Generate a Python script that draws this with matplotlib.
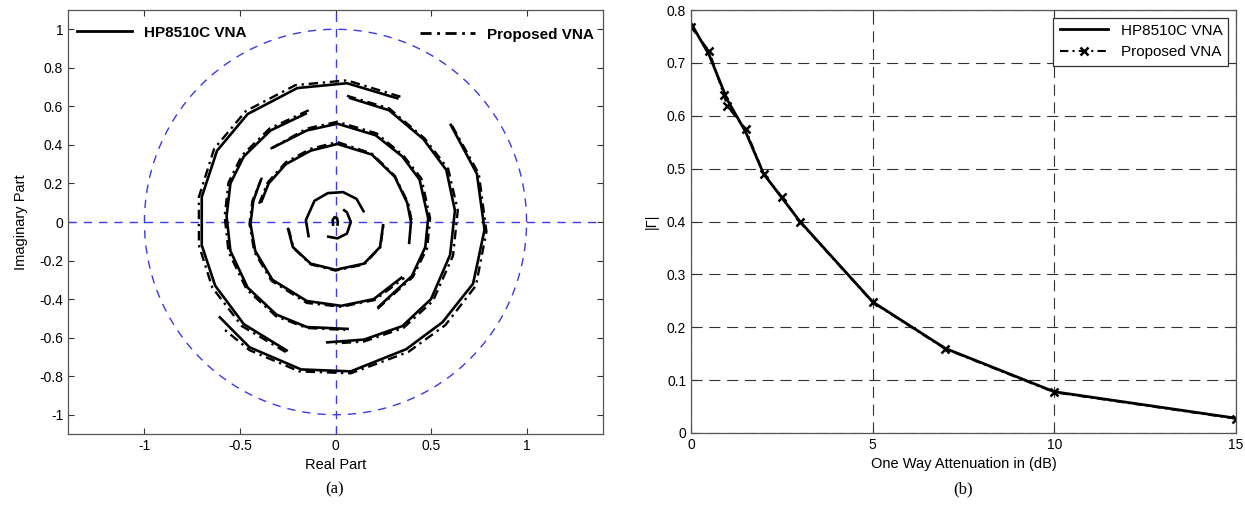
import matplotlib.pyplot as plt
import numpy as np

# === Data: (a) reflection coefficient arcs ===
# each arc: HP8510C (solid) and proposed VNA (dash-dot)
arcs_hp = {
    "0dB":   ([0.60, 0.74, 0.78, 0.72, 0.56, 0.37, 0.08, -0.18, -0.45, -0.61],
              [0.51, 0.25, -0.04, -0.32, -0.52, -0.66, -0.775, -0.765, -0.65, -0.49]),
    "0.5dB": ([0.33, 0.06, -0.20, -0.46, -0.62, -0.70, -0.70, -0.63, -0.48, -0.25],
              [0.64, 0.72, 0.695, 0.56, 0.37, 0.13, -0.12, -0.33, -0.53, -0.67]),
    "1dB":   ([0.07, 0.28, 0.46, 0.58, 0.625, 0.60, 0.50, 0.35, 0.15, -0.05],
              [0.645, 0.58, 0.43, 0.27, 0.06, -0.17, -0.40, -0.54, -0.61, -0.625]),
    "1.5dB": ([-0.15, -0.34, -0.48, -0.55, -0.57, -0.55, -0.46, -0.31, -0.15, 0.07],
              [0.565, 0.475, 0.34, 0.20, 0.03, -0.15, -0.34, -0.48, -0.545, -0.555]),
    "2dB":   ([-0.33, -0.15, 0.01, 0.21, 0.35, 0.44, 0.485, 0.47, 0.40, 0.22],
              [0.385, 0.475, 0.51, 0.45, 0.34, 0.22, 0.02, -0.13, -0.28, -0.445]),
    "2.5dB": ([-0.39, -0.43, -0.445, -0.42, -0.33, -0.15, 0.03, 0.20, 0.35],
              [0.22, 0.11, -0.01, -0.15, -0.30, -0.41, -0.435, -0.40, -0.285]),
    "3dB":   ([-0.39, -0.35, -0.26, -0.13, 0.01, 0.19, 0.31, 0.375, 0.395, 0.385],
              [0.10, 0.20, 0.30, 0.37, 0.405, 0.35, 0.235, 0.10, 0.0, -0.115]),
    "5dB":   ([-0.25, -0.223, -0.13, 0.0, 0.149, 0.233, 0.25],
              [-0.03, -0.13, -0.216, -0.248, -0.216, -0.13, -0.01]),
    "7dB":   ([0.15, 0.11, 0.04, -0.04, -0.11, -0.155, -0.14],
              [0.05, 0.12, 0.155, 0.15, 0.11, 0.01, -0.08]),
    "10dB":  ([-0.045, 0.01, 0.06, 0.08, 0.06, 0.04],
              [-0.075, -0.085, -0.06, 0.0, 0.05, 0.065]),
    "15dB":  ([-0.012, -0.015, -0.005, 0.008, 0.012, 0.01],
              [-0.02, 0.01, 0.025, 0.02, 0.0, -0.02]),
}
arcs_prop = {
    "0dB":   ([0.61, 0.75, 0.79, 0.735, 0.575, 0.38, 0.08, -0.19, -0.45, -0.585],
              [0.50, 0.25, -0.05, -0.33, -0.535, -0.675, -0.785, -0.775, -0.665, -0.555]),
    "0.5dB": ([0.34, 0.06, -0.21, -0.47, -0.635, -0.715, -0.715, -0.645, -0.49, -0.26],
              [0.65, 0.735, 0.71, 0.575, 0.38, 0.13, -0.12, -0.34, -0.54, -0.675]),
    "1dB":   ([0.06, 0.28, 0.465, 0.59, 0.64, 0.615, 0.51, 0.355, 0.15, 0.0],
              [0.655, 0.59, 0.435, 0.275, 0.06, -0.175, -0.41, -0.55, -0.62, -0.63]),
    "1.5dB": ([-0.14, -0.345, -0.49, -0.56, -0.58, -0.56, -0.465, -0.31, -0.15, 0.05],
              [0.58, 0.485, 0.345, 0.205, 0.03, -0.155, -0.35, -0.49, -0.55, -0.56]),
    "2dB":   ([-0.34, -0.15, 0.01, 0.215, 0.355, 0.45, 0.495, 0.48, 0.405, 0.215],
              [0.38, 0.485, 0.52, 0.46, 0.345, 0.225, 0.02, -0.135, -0.285, -0.455]),
    "2.5dB": ([-0.385, -0.435, -0.45, -0.425, -0.335, -0.15, 0.03, 0.205, 0.36],
              [0.23, 0.11, -0.01, -0.155, -0.305, -0.42, -0.44, -0.405, -0.29]),
    "3dB":   ([-0.40, -0.355, -0.26, -0.13, 0.01, 0.19, 0.31, 0.38, 0.40],
              [0.095, 0.205, 0.31, 0.38, 0.415, 0.355, 0.24, 0.10, 0.0]),
    "5dB":   ([-0.245, -0.22, -0.13, 0.0, 0.15, 0.235, 0.25],
              [-0.035, -0.135, -0.22, -0.252, -0.22, -0.13, -0.02]),
}

# === Data: (b) |Gamma| vs attenuation ===
att_hp = [0, 0.5, 1, 1.5, 2, 2.5, 3, 5, 7, 10, 15]
gam_hp = [0.775, 0.715, 0.63, 0.57, 0.49, 0.445, 0.40, 0.248, 0.16, 0.078, 0.028]
att_prop = [0, 0.5, 0.9, 1, 1.5, 2, 2.5, 3, 5, 7, 10, 15]
gam_prop = [0.768, 0.722, 0.64, 0.618, 0.575, 0.49, 0.446, 0.399, 0.247, 0.159, 0.077, 0.027]

plt.rcParams['font.family'] = ['Liberation Sans', 'DejaVu Sans']
DASHDOT = (0, (4, 2, 1, 2))
BLUE = '#3a3ae6'

fig = plt.figure(figsize=(12.45, 5.05), dpi=100)
ax1 = fig.add_axes([68 / 1245, 71 / 505, 535 / 1245, 424 / 505])
ax2 = fig.add_axes([691 / 1245, 72 / 505, 545 / 1245, 423 / 505])

# === (a) ===
t = np.linspace(0, 2 * np.pi, 200)
ax1.plot(np.cos(t), np.sin(t), color=BLUE, lw=1.0, linestyle=(0, (6, 5)))
ax1.axhline(0, color=BLUE, lw=1.0, linestyle=(0, (6, 5)))
ax1.axvline(0, color=BLUE, lw=1.0, linestyle=(0, (6, 5)))

for key, (xs, ys) in arcs_prop.items():
    ax1.plot(xs, ys, color='black', lw=1.7, linestyle=DASHDOT)
for key, (xs, ys) in arcs_hp.items():
    ax1.plot(xs, ys, color='black', lw=1.9, solid_capstyle='butt')

h1, = ax1.plot([], [], color='black', lw=2)
h2, = ax1.plot([], [], color='black', lw=2, linestyle=DASHDOT)
leg1 = ax1.legend([h1], ['HP8510C VNA'], loc='upper left', frameon=False,
                  prop={'weight': 'bold', 'size': 11}, handlelength=3.6,
                  borderaxespad=0.2, bbox_to_anchor=(0.0, 0.985))
ax1.add_artist(leg1)
ax1.legend([h2], ['Proposed VNA'], loc='upper right', frameon=False,
           prop={'weight': 'bold', 'size': 11}, handlelength=3.6,
           borderaxespad=0.2, bbox_to_anchor=(1.0, 0.98))

ax1.set_xlim(-1.4, 1.4)
ax1.set_ylim(-1.1, 1.1)
xt = [-1, -0.5, 0, 0.5, 1]
ax1.set_xticks(xt)
ax1.set_xticklabels(['-1', '-0.5', '0', '0.5', '1'])
yt = [-1, -0.8, -0.6, -0.4, -0.2, 0, 0.2, 0.4, 0.6, 0.8, 1]
ax1.set_yticks(yt)
ax1.set_yticklabels(['-1', '-0.8', '-0.6', '-0.4', '-0.2', '0', '0.2', '0.4', '0.6', '0.8', '1'])
ax1.set_xlabel('Real Part', fontsize=10.5, labelpad=4)
ax1.set_ylabel('Imaginary Part', fontsize=10.5, labelpad=8)

# === (b) ===
ax2.plot(att_hp, gam_hp, color='black', lw=2, label='HP8510C VNA')
ax2.plot(att_prop, gam_prop, color='black', lw=1.5, linestyle=DASHDOT,
         marker='x', markersize=5.5, markeredgewidth=1.8, label='Proposed VNA')
ax2.set_xlim(0, 15)
ax2.set_ylim(0, 0.8)
ax2.set_xticks([0, 5, 10, 15])
ax2.set_yticks([0, 0.1, 0.2, 0.3, 0.4, 0.5, 0.6, 0.7, 0.8])
ax2.set_yticklabels(['0', '0.1', '0.2', '0.3', '0.4', '0.5', '0.6', '0.7', '0.8'])
ax2.grid(True, color='#333333', lw=0.8, linestyle=(0, (10, 6)))
ax2.set_axisbelow(True)
ax2.set_xlabel('One Way Attenuation in (dB)', fontsize=10.5, labelpad=4)
ax2.set_ylabel('|Γ|', fontsize=10.5, labelpad=6)
leg = ax2.legend(loc='upper right', fontsize=11, handlelength=3.2,
                 fancybox=False, framealpha=1, edgecolor='#333333',
                 borderaxespad=0.5)
leg.get_frame().set_linewidth(0.9)

for ax in (ax1, ax2):
    ax.tick_params(direction='in', top=True, right=True, length=4,
                   labelsize=10, color='#333333')
    for s in ax.spines.values():
        s.set_color('#555555')
        s.set_linewidth(0.9)

fig.text(335 / 1245, 1 - 489 / 505, '(a)', ha='center', va='center',
         family='Liberation Serif', fontsize=12)
fig.text(963 / 1245, 1 - 489 / 505, '(b)', ha='center', va='center',
         family='Liberation Serif', fontsize=12)

fig.savefig('out.png', dpi=100)
